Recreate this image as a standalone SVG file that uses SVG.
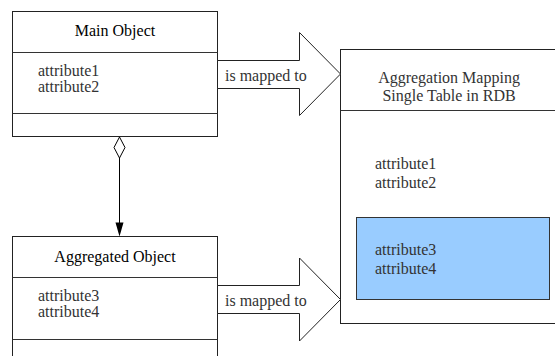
<svg xmlns="http://www.w3.org/2000/svg" width="555" height="356" viewBox="0 0 555 356">
  <defs>
    <style>
      .box { fill: #ffffff; stroke: #222222; stroke-width: 1; }
      .sep { fill: none; stroke: #333333; stroke-width: 1; }
      .title { fill: #000000; text-anchor: middle; }
      .head { fill: #333333; text-anchor: middle; }
      .attr { fill: #333333; }
      .label { fill: #333333; }
      .big-arrow { fill: #ffffff; stroke: #222222; stroke-width: 1; stroke-linejoin: miter; }
      .link { fill: none; stroke: #000000; stroke-width: 1; }
    </style>
  </defs>

  <rect width="555" height="356" fill="#ffffff"/>

  <g font-family="Liberation Serif, DejaVu Serif, serif" font-size="16">
  <!-- Main Object class box -->
  <g id="main-object">
    <rect class="box" x="12.5" y="11.5" width="205" height="125"/>
    <line class="sep" x1="12.5" y1="52.5" x2="217.5" y2="52.5"/>
    <line class="sep" x1="12.5" y1="113.5" x2="217.5" y2="113.5"/>
    <text class="title" x="115" y="36">Main Object</text>
    <text class="attr" x="38" y="76">attribute1</text>
    <text class="attr" x="38" y="92">attribute2</text>
  </g>

  <!-- Aggregated Object class box (runs past the bottom edge) -->
  <g id="aggregated-object">
    <rect class="box" x="12.5" y="236.5" width="205" height="140"/>
    <line class="sep" x1="12.5" y1="277.5" x2="217.5" y2="277.5"/>
    <line class="sep" x1="12.5" y1="339.5" x2="217.5" y2="339.5"/>
    <text class="title" x="115" y="262">Aggregated Object</text>
    <text class="attr" x="38" y="301">attribute3</text>
    <text class="attr" x="38" y="317">attribute4</text>
  </g>

  <!-- Single table (runs past the right edge) -->
  <g id="rdb-table">
    <rect class="box" x="340.5" y="49.5" width="220" height="274"/>
    <line class="sep" x1="340.5" y1="110.5" x2="560" y2="110.5"/>
    <text class="head" x="449" y="83">Aggregation Mapping</text>
    <text class="head" x="449" y="101">Single Table in RDB</text>
    <text class="attr" x="375" y="169">attribute1</text>
    <text class="attr" x="375" y="188">attribute2</text>
    <rect x="356.5" y="217.5" width="193" height="82" fill="#99ccff" stroke="#333333" stroke-width="1"/>
    <text class="attr" x="375" y="255">attribute3</text>
    <text class="attr" x="375" y="274">attribute4</text>
  </g>

  <!-- Connectors -->
  <g id="connectors">
    <!-- aggregation: diamond at Main Object, arrowhead at Aggregated Object -->
    <polygon points="119.5,137 125,147.5 119.5,158 114,147.5" fill="#ffffff" stroke="#000000" stroke-width="1"/>
    <line class="link" x1="119.5" y1="158" x2="119.5" y2="224"/>
    <polygon points="115.5,222.5 123.5,222.5 119.5,236.5" fill="#000000"/>

    <!-- block arrow: Main Object to table -->
    <g id="map-arrow-1">
      <polygon class="big-arrow" points="217.5,60.5 299.5,60.5 299.5,32.5 340.5,74 299.5,115.5 299.5,88.5 217.5,88.5"/>
      <text class="label" x="225" y="81">is mapped to</text>
    </g>

    <!-- block arrow: Aggregated Object to table -->
    <g id="map-arrow-2">
      <polygon class="big-arrow" points="217.5,285.5 299.5,285.5 299.5,258 340.5,299.5 299.5,341 299.5,313.5 217.5,313.5"/>
      <text class="label" x="225" y="306">is mapped to</text>
    </g>
  </g>
  </g>
</svg>
